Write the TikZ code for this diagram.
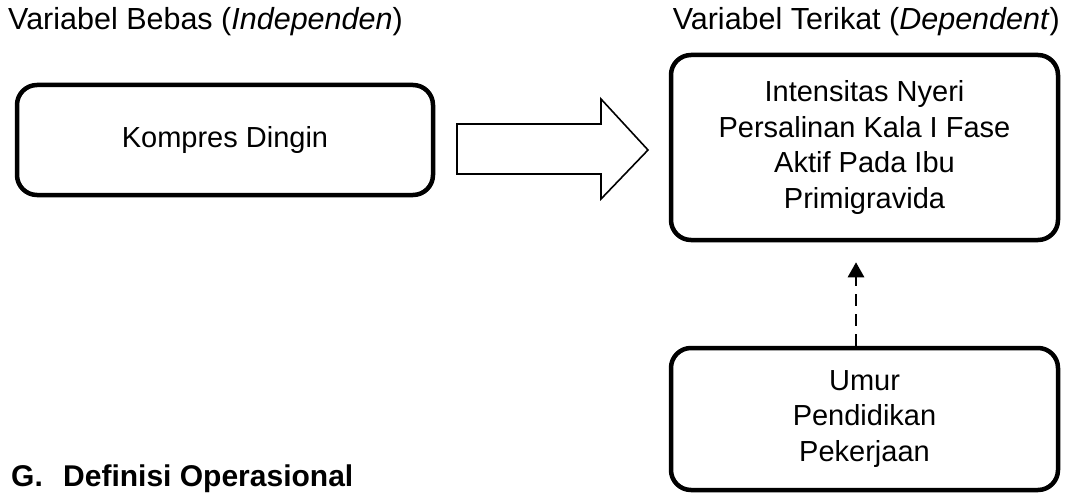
\documentclass[tikz,border=0pt]{standalone}
\usepackage{fontspec}
\setmainfont{Liberation Sans}
\usetikzlibrary{arrows.meta,positioning}

\begin{document}
\begin{tikzpicture}[
  x=1pt, y=-1pt,
  kotak/.style={draw, line width=4.5pt, rounded corners=20pt,
    align=center, font=\fontsize{29}{35.5}\selectfont},
  judul/.style={font=\fontsize{30.5}{36}\selectfont, inner sep=0pt},
  panah/.style={draw, line width=1.6pt, line join=miter},
  putus/.style={-{Triangle[width=16pt,length=15pt]}, line width=2.8pt,
    dash pattern=on 12pt off 8pt}
]
  \useasboundingbox (0,0) rectangle (1066,495);

  % judul variabel
  \node[judul, anchor=base west] (bebas) at (8,30)
    {Variabel Bebas (\textit{Independen})};
  \node[judul, anchor=base east] (terikat) at (1060,30)
    {Variabel Terikat (\textit{Dependent})};

  % kotak
  \node[kotak, minimum width=416pt, minimum height=110pt] (dingin)
    at (225,140) {Kompres Dingin};
  \node[kotak, minimum width=387pt, minimum height=185pt] (nyeri)
    at (864.5,147.5) {Intensitas Nyeri\\Persalinan Kala I Fase\\Aktif Pada Ibu\\Primigravida};
  \node[kotak, minimum width=387pt, minimum height=142pt] (faktor)
    at (864.5,419) {Umur\\Pendidikan\\Pekerjaan};

  % panah besar
  \draw[panah] (457,124) -- (601,124) -- (601,99) -- (648,150)
    -- (601,199) -- (601,174) -- (457,174) -- cycle;

  % panah putus-putus
  \draw[putus] ([xshift=-8.5pt]faktor.north) -- ([xshift=-8.5pt,yshift=-20pt]nyeri.south);

  % subjudul
  \node[judul, anchor=base west, font=\fontsize{30}{36}\selectfont\bfseries] (sub)
    at (11,486) {\makebox[52pt][l]{G.}Definisi Operasional};
\end{tikzpicture}
\end{document}
